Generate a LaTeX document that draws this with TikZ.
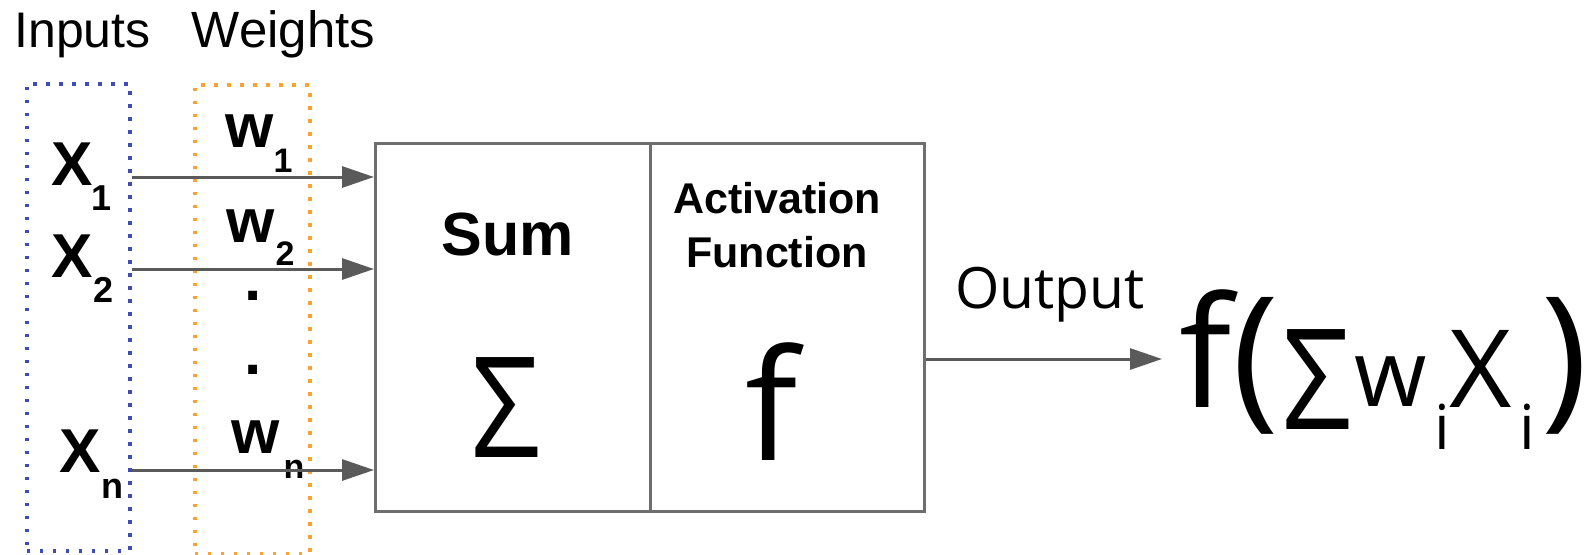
\documentclass[tikz,border=0pt]{standalone}
\usepackage{fontspec}
\setmainfont{Liberation Sans}
\newfontfamily\osans{Open Sans}
\usetikzlibrary{arrows.meta}
\definecolor{boxgray}{HTML}{6E6E6E}
\definecolor{arrgray}{HTML}{5A5A5A}
\definecolor{dotblue}{HTML}{3D4DB7}
\definecolor{dotorange}{HTML}{FFA033}
\newcommand{\myfs}[1]{\fontsize{#1}{#1}\selectfont}
\begin{document}
\begin{tikzpicture}[x=1pt,y=-1pt,
  lbl/.style={inner sep=0pt, outer sep=0pt, text=black},
  bl/.style={lbl, anchor=base},
  glyph/.style={lbl, anchor=center},
  cellbox/.style={draw=boxgray, line width=3pt, inner sep=0pt, anchor=north west, minimum height=368pt},
  dotbox/.style={line width=3.5pt, dash pattern=on 3.5pt off 9.5pt, inner sep=0pt, anchor=north west},
  arr/.style={draw=arrgray, line width=3pt, -{Triangle[length=32pt,width=21pt]}}]
\useasboundingbox (0,0) rectangle (1589,554);
\fill[white] (0,0) rectangle (1589,554);

% headings
\node[bl] (tin) at (82.5,47) {\myfs{50}Inputs};
\node[bl] (twt) at (283.5,47) {\myfs{51}Weights};

% dotted groups
\node[dotbox, draw=dotblue, minimum width=103pt, minimum height=467pt] (inbox) at (25,82) {};
\node[dotbox, draw=dotorange, minimum width=115pt, minimum height=469pt] (wbox) at (193,83) {};

% main boxes
\node[cellbox, minimum width=275pt] (sumbox) at (374,142) {};
\node[cellbox, minimum width=274pt] (actbox) at (649,142) {};

% inputs
\node[bl] (x1) at (72,185) {\myfs{62}\bfseries X};
\node[bl] (x1s) at (102,210) {\myfs{36}\bfseries 1};
\node[bl] (x2) at (72,277) {\myfs{62}\bfseries X};
\node[bl] (x2s) at (104,302) {\myfs{36}\bfseries 2};
\node[bl] (xn) at (80,472) {\myfs{62}\bfseries X};
\node[bl] (xns) at (112,498) {\myfs{36}\bfseries n};

% weights
\node[bl] (w1) at (250,147) {\myfs{62}\bfseries w};
\node[bl] (w1s) at (283,172) {\myfs{34}\bfseries 1};
\node[bl] (w2) at (251,242) {\myfs{62}\bfseries w};
\node[bl] (w2s) at (285,265) {\myfs{34}\bfseries 2};
\node[glyph] (d1) at (253,296) {\myfs{62}\bfseries .};
\node[glyph] (d2) at (253,370) {\myfs{62}\bfseries .};
\node[bl] (wn) at (256,453) {\myfs{62}\bfseries w};
\node[bl] (wns) at (294,478) {\myfs{34}\bfseries n};

% arrows into the sum box
\draw[arr] (inbox.east |- 0,177) -- (sumbox.west |- 0,177);
\draw[arr] (inbox.east |- 0,269) -- (sumbox.west |- 0,269);
\draw[arr] (inbox.east |- 0,470) -- (sumbox.west |- 0,470);

% box contents
\node[bl] (sum) at (508,255) {\myfs{61}\bfseries Sum};
\node[glyph, xscale=0.87] (sig) at (506,408) {\myfs{140}\osans Σ};
\node[bl] (act1) at (777,213) {\myfs{43}\bfseries Activation};
\node[bl] (act2) at (777,267) {\myfs{43}\bfseries Function};
\node[glyph] (fbox) at (772,401.5) {\myfs{154}\osans f};

% output
\node[bl] (out) at (1050,308) {\myfs{57}\osans Output};
\coordinate (outend) at (1162,359);
\draw[arr] (actbox.east |- outend) -- (outend);

% formula
\node[glyph] (ff) at (1206,348.5) {\myfs{154}\osans f};
\node[glyph] (lp) at (1256,366) {\myfs{157}\osans (};
\node[glyph, xscale=0.87] (fs) at (1317,380) {\myfs{140}\osans Σ};
\node[glyph] (fw) at (1391,382) {\myfs{93}\osans w};
\node[glyph] (fi1) at (1442,426.5) {\myfs{62}\osans i};
\node[glyph] (fx) at (1481,368.5) {\myfs{108}\osans X};
\node[glyph] (fi2) at (1527,426.5) {\myfs{62}\osans i};
\node[glyph] (rp) at (1565,366) {\myfs{157}\osans )};
\end{tikzpicture}
\end{document}
